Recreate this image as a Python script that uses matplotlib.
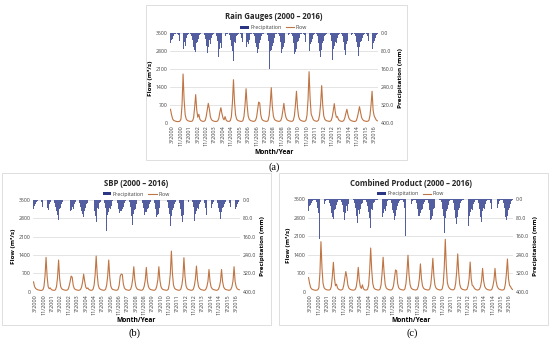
import matplotlib
matplotlib.use("Agg")
import matplotlib.pyplot as plt
from matplotlib.patches import Rectangle, Patch
from matplotlib.lines import Line2D

plt.rcParams['font.family'] = ['Open Sans', 'DejaVu Sans']

# monthly values, Jan 2000 .. Jun 2016, one row per year
flow_rg = [
    [540, 330, 170, 110, 90, 75, 65, 60, 65, 80, 160, 700],
    [1910, 900, 330, 160, 110, 90, 75, 70, 70, 90, 200, 600],
    [1110, 520, 230, 345, 150, 100, 80, 70, 75, 100, 250, 520],
    [770, 560, 250, 140, 100, 85, 70, 65, 70, 90, 180, 420],
    [600, 380, 200, 130, 255, 120, 80, 70, 70, 100, 250, 800],
    [1690, 820, 320, 160, 110, 90, 80, 70, 70, 100, 260, 700],
    [1340, 700, 280, 150, 110, 90, 80, 70, 75, 110, 230, 520],
    [820, 780, 320, 160, 110, 90, 80, 70, 70, 110, 300, 750],
    [1380, 650, 280, 150, 110, 90, 80, 70, 75, 100, 220, 480],
    [770, 420, 220, 140, 105, 90, 80, 70, 75, 110, 280, 700],
    [1240, 600, 260, 150, 110, 90, 80, 70, 75, 110, 300, 900],
    [2000, 950, 350, 250, 140, 100, 85, 75, 80, 120, 320, 750],
    [1460, 700, 280, 150, 110, 90, 80, 70, 75, 100, 230, 480],
    [760, 420, 230, 255, 140, 100, 80, 70, 75, 100, 200, 380],
    [540, 330, 190, 130, 100, 85, 75, 65, 70, 100, 230, 420],
    [640, 420, 220, 140, 100, 85, 75, 70, 75, 110, 300, 700],
    [1240, 500, 280, 200, 120, 90],
]
prec_rg = [
    [45, 30, 25, 15, 5, 2, 1, 3, 10, 35, 60, 166],
    [70, 40, 55, 20, 8, 2, 1, 2, 15, 30, 60, 75],
    [86, 45, 40, 25, 10, 3, 1, 2, 10, 25, 55, 90],
    [60, 30, 50, 20, 10, 2, 1, 1, 15, 35, 108, 70],
    [45, 65, 40, 20, 15, 3, 2, 1, 10, 30, 55, 80],
    [125, 40, 45, 15, 10, 2, 1, 2, 20, 40, 147, 75],
    [60, 40, 50, 30, 5, 2, 1, 3, 15, 45, 60, 90],
    [70, 45, 30, 15, 5, 2, 1, 1, 10, 35, 161, 80],
    [75, 55, 45, 20, 5, 2, 1, 2, 15, 40, 90, 70],
    [60, 45, 40, 20, 10, 3, 1, 2, 15, 45, 94, 85],
    [70, 40, 35, 20, 5, 2, 1, 2, 10, 40, 70, 151],
    [80, 50, 40, 25, 8, 2, 1, 2, 15, 45, 80, 108],
    [75, 45, 35, 15, 8, 2, 1, 2, 10, 35, 118, 70],
    [55, 40, 45, 20, 10, 3, 1, 2, 15, 40, 75, 97],
    [50, 35, 40, 20, 8, 2, 1, 2, 15, 40, 60, 100],
    [60, 40, 35, 20, 8, 2, 1, 2, 15, 35, 75, 90],
    [70, 45, 35, 20, 8, 2],
]

flow_sbp = [
    [380, 200, 130, 100, 80, 70, 60, 55, 60, 80, 200, 600],
    [1310, 600, 200, 120, 150, 90, 70, 60, 60, 80, 200, 550],
    [1210, 500, 200, 120, 90, 80, 65, 60, 65, 90, 200, 380],
    [600, 560, 250, 130, 90, 80, 65, 60, 65, 90, 180, 380],
    [675, 400, 180, 120, 150, 90, 70, 60, 65, 100, 250, 650],
    [1360, 650, 250, 130, 100, 80, 70, 60, 65, 100, 250, 600],
    [1210, 550, 220, 120, 90, 80, 70, 60, 65, 100, 250, 600],
    [675, 660, 300, 150, 100, 80, 70, 60, 65, 100, 230, 500],
    [955, 450, 200, 120, 90, 80, 70, 60, 65, 100, 220, 450],
    [930, 420, 200, 120, 90, 80, 70, 60, 65, 100, 220, 450],
    [955, 450, 200, 120, 90, 80, 70, 60, 65, 100, 300, 700],
    [1550, 700, 260, 140, 100, 85, 70, 60, 65, 100, 250, 550],
    [1300, 600, 230, 130, 95, 80, 70, 60, 65, 100, 230, 500],
    [980, 450, 200, 130, 95, 80, 70, 60, 65, 100, 200, 400],
    [850, 400, 190, 120, 90, 80, 70, 60, 65, 100, 200, 400],
    [850, 400, 190, 120, 90, 80, 70, 60, 65, 100, 200, 420],
    [955, 400, 200, 120, 90, 80],
]
prec_sbp = [
    [40, 25, 20, 10, 5, 2, 1, 3, 10, 30, 55, 134],
    [60, 35, 45, 20, 8, 2, 1, 2, 12, 30, 50, 65],
    [87, 40, 35, 20, 8, 3, 1, 2, 10, 25, 58, 50],
    [45, 30, 40, 20, 8, 2, 1, 1, 12, 30, 50, 60],
    [73, 50, 35, 20, 12, 3, 2, 1, 10, 30, 50, 70],
    [97, 35, 40, 15, 8, 2, 1, 2, 15, 35, 134, 65],
    [55, 35, 40, 25, 5, 2, 1, 3, 12, 40, 58, 50],
    [50, 40, 30, 15, 5, 2, 1, 1, 10, 30, 70, 109],
    [60, 45, 40, 20, 5, 2, 1, 2, 12, 35, 65, 55],
    [55, 40, 35, 20, 8, 3, 1, 2, 12, 40, 73, 65],
    [60, 35, 30, 18, 5, 2, 1, 2, 10, 35, 60, 113],
    [70, 45, 35, 20, 8, 2, 1, 2, 12, 40, 70, 95],
    [65, 40, 30, 15, 8, 2, 1, 2, 10, 30, 92, 60],
    [50, 35, 40, 18, 8, 3, 1, 2, 12, 35, 65, 99],
    [45, 30, 35, 18, 8, 2, 1, 2, 12, 35, 55, 84],
    [55, 35, 30, 18, 8, 2, 1, 2, 12, 30, 60, 70],
    [60, 40, 30, 18, 8, 2],
]

flow_cp = [
    [540, 330, 170, 110, 90, 75, 65, 60, 65, 80, 160, 700],
    [1900, 900, 330, 160, 110, 90, 75, 70, 70, 90, 200, 600],
    [1120, 520, 230, 290, 150, 100, 80, 70, 75, 100, 250, 520],
    [770, 560, 250, 140, 100, 85, 70, 65, 70, 90, 180, 450],
    [930, 450, 200, 130, 265, 120, 80, 70, 70, 100, 250, 800],
    [1660, 820, 320, 160, 110, 90, 80, 70, 70, 100, 260, 700],
    [1310, 700, 280, 150, 110, 90, 80, 70, 75, 110, 230, 520],
    [830, 800, 320, 160, 110, 90, 80, 70, 70, 110, 300, 750],
    [1385, 650, 280, 150, 110, 90, 80, 70, 75, 100, 220, 500],
    [1060, 500, 230, 140, 105, 90, 80, 70, 75, 110, 280, 700],
    [1270, 600, 260, 150, 110, 90, 80, 70, 75, 110, 300, 900],
    [1990, 950, 350, 200, 140, 100, 85, 75, 80, 120, 320, 750],
    [1435, 700, 280, 150, 110, 90, 80, 70, 75, 100, 230, 500],
    [1130, 500, 240, 220, 140, 100, 80, 70, 75, 100, 200, 420],
    [890, 420, 210, 140, 100, 85, 75, 65, 70, 100, 230, 450],
    [890, 420, 220, 140, 100, 85, 75, 70, 75, 110, 300, 700],
    [1245, 500, 250, 200, 120, 90],
]
prec_cp = [
    [50, 30, 25, 15, 5, 2, 1, 3, 10, 35, 60, 172],
    [70, 40, 55, 20, 8, 2, 1, 2, 15, 30, 60, 75],
    [84, 45, 40, 25, 10, 3, 1, 2, 10, 25, 55, 90],
    [60, 30, 50, 20, 10, 2, 1, 1, 15, 35, 70, 102],
    [45, 65, 40, 20, 15, 3, 2, 1, 10, 30, 55, 80],
    [124, 40, 45, 15, 10, 2, 1, 2, 20, 40, 148, 75],
    [60, 40, 50, 30, 5, 2, 1, 3, 15, 45, 60, 87],
    [70, 45, 30, 15, 5, 2, 1, 1, 10, 35, 157, 80],
    [75, 55, 45, 20, 5, 2, 1, 2, 15, 40, 73, 70],
    [60, 45, 40, 20, 10, 3, 1, 2, 15, 45, 90, 85],
    [70, 40, 35, 20, 5, 2, 1, 2, 10, 40, 70, 145],
    [80, 50, 40, 25, 8, 2, 1, 2, 15, 45, 80, 105],
    [75, 45, 35, 15, 8, 2, 1, 2, 10, 35, 113, 70],
    [55, 40, 45, 20, 10, 3, 1, 2, 15, 40, 75, 99],
    [50, 35, 40, 20, 8, 2, 1, 2, 15, 40, 60, 95],
    [60, 40, 35, 20, 8, 2, 1, 2, 15, 35, 75, 90],
    [70, 45, 35, 20, 8, 2],
]

tick_pos = [2, 10, 18, 26, 34, 42, 50, 58, 66, 74, 82, 90, 98,
            106, 114, 122, 130, 138, 146, 154, 162, 170, 178, 186, 194]
tick_labels = ['3/2000', '11/2000', '7/2001', '3/2002', '11/2002', '7/2003',
               '3/2004', '11/2004', '7/2005', '3/2006', '11/2006', '7/2007',
               '3/2008', '11/2008', '7/2009', '3/2010', '11/2010', '7/2011',
               '3/2012', '11/2012', '7/2013', '3/2014', '11/2014', '7/2015',
               '3/2016']
flow_ticks = [0, 700, 1400, 2100, 2800, 3500]
prec_ticks = [0, 80, 160, 240, 320, 400]

BAR = '#525e9f'
LINE = '#bf7443'


def flat(rows):
    out = []
    for r in rows:
        out.extend(r)
    return out


def panel(fig, rect, frame, title, tag, tag_xy, flow, prec):
    fig.patches.append(Rectangle((frame[0], frame[1]), frame[2], frame[3],
                                 transform=fig.transFigure, fill=False,
                                 edgecolor='#d9d9d9', linewidth=0.6))
    f = flat(flow)
    p = flat(prec)
    x = list(range(len(f)))
    ax = fig.add_axes(rect)
    ax.plot(x, f, color=LINE, linewidth=0.8, zorder=3)
    ax.set_ylim(0, 3500)
    ax.set_xlim(-0.5, len(f) - 0.5)
    ax.set_yticks(flow_ticks)
    ax.set_yticklabels([str(v) for v in flow_ticks])
    ax.set_xticks(tick_pos)
    ax.set_xticklabels(tick_labels, rotation=90)
    ax.grid(axis='y', color='#d9d9d9', linewidth=0.5)
    ax.set_axisbelow(True)
    for s in ax.spines.values():
        s.set_visible(False)
    ax.tick_params(length=0, labelsize=3.7, pad=1.5, colors='#404040')
    ax.tick_params(axis='x', labelsize=4.0)
    ax.set_ylabel('Flow (m³/s)', fontsize=4.6, fontweight='bold', labelpad=2)
    ax.set_xlabel('Month/Year', fontsize=4.8, fontweight='bold', labelpad=2)

    ax2 = ax.twinx()
    ax2.bar(x, p, width=0.85, color=BAR, zorder=2)
    ax2.set_ylim(400, 0)
    ax2.set_yticks(prec_ticks)
    ax2.set_yticklabels(['%.1f' % v for v in prec_ticks])
    for s in ax2.spines.values():
        s.set_visible(False)
    ax2.tick_params(length=0, labelsize=3.7, pad=2, colors='#404040')
    ax2.set_ylabel('Precipitation (mm)', fontsize=4.6, fontweight='bold', labelpad=3)

    ax.set_title(title, fontsize=5.6, fontweight='bold', pad=10, color='#262626')
    handles = [Patch(facecolor='#2b3585'), Line2D([], [], color=LINE, linewidth=0.8)]
    ax.legend(handles, ['Precipitation', 'Flow'], loc='lower center',
              bbox_to_anchor=(0.5, 1.0), ncol=2, frameon=False, fontsize=3.8,
              handlelength=1.6, handleheight=0.5, columnspacing=0.8,
              borderpad=0.1, handletextpad=0.3, labelcolor='#404040')
    fig.text(tag_xy[0], tag_xy[1], tag, fontsize=7.5, family='Liberation Serif',
             ha='center', va='center')


fig = plt.figure(figsize=(5.5, 3.45), dpi=100)
panel(fig, [0.309, 0.643, 0.378, 0.261], [0.265, 0.537, 0.475, 0.449],
      'Rain Gauges (2000 – 2016)', '(a)', (0.498, 0.515), flow_rg, prec_rg)
panel(fig, [0.060, 0.154, 0.376, 0.267], [0.004, 0.058, 0.488, 0.44],
      'SBP (2000 – 2016)', '(b)', (0.245, 0.035), flow_sbp, prec_sbp)
panel(fig, [0.560, 0.154, 0.373, 0.268], [0.508, 0.058, 0.488, 0.44],
      'Combined Product (2000 – 2016)', '(c)', (0.75, 0.035), flow_cp, prec_cp)

fig.savefig('out.png', dpi=100)
